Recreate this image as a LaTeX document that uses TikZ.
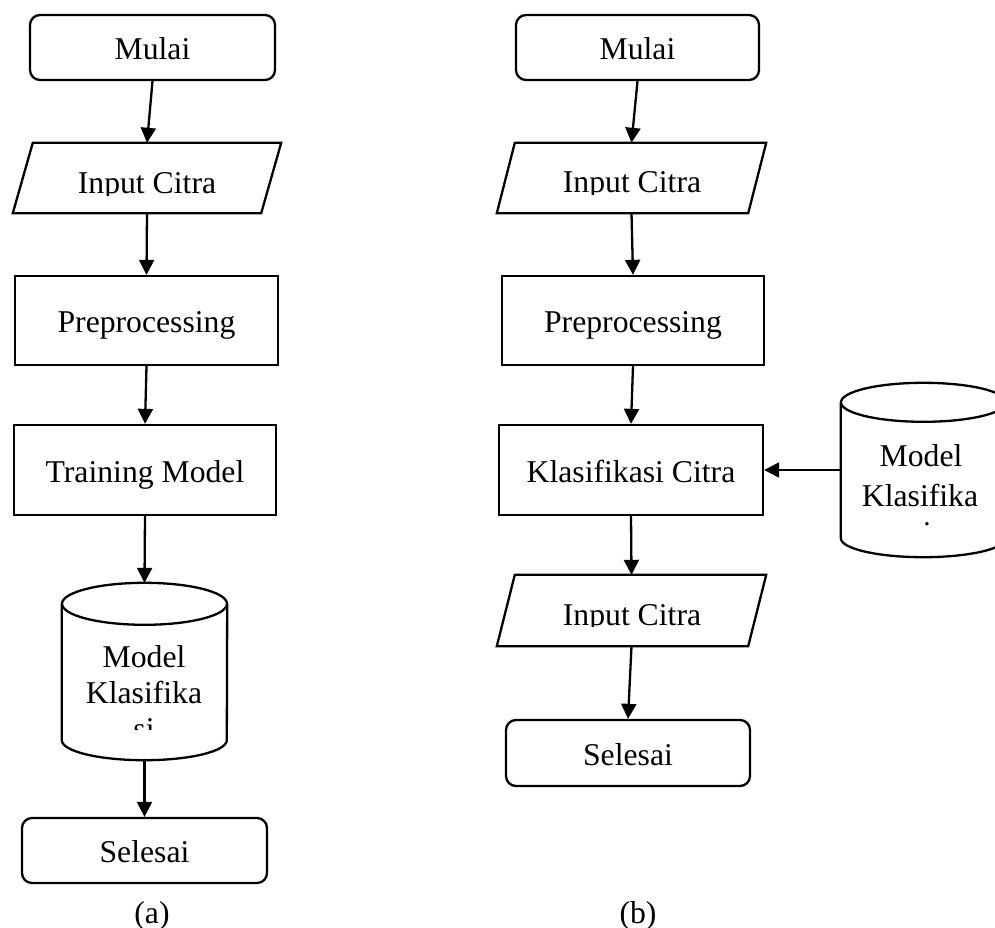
\documentclass[tikz,border=0pt]{standalone}
\usepackage{fontspec}
\setmainfont{Liberation Serif}
\usetikzlibrary{arrows.meta}

\tikzset{
  x=1pt, y=-1pt,
  txt/.style={font=\fontsize{31.7}{36}\selectfont},
  outline/.style={line width=2.3pt},
  shp/.style={txt, outline, inner sep=0pt, text height=30pt, text depth=6pt},
  procbox/.style={shp, draw, rectangle},
  termbox/.style={shp, draw, rectangle, rounded corners=10pt},
  body/.style={rectangle, inner sep=0pt},
  lbl/.style={txt, inner sep=0pt, anchor=base},
  flow/.style={outline, -{Triangle[length=15pt,width=15pt]}},
}

\begin{document}
\begin{tikzpicture}
\useasboundingbox (0,0) rectangle (995,928);

% ---------- (a) training ----------
\node[termbox, minimum width=245pt, minimum height=65pt] (mulaiA) at (152.5,47.5) {Mulai};

\node[body, minimum width=248pt, minimum height=70pt] (inA) at (147,178) {};
\draw[outline] ([xshift=10pt]inA.north west) -- ([xshift=10pt]inA.north east)
  -- ([xshift=-10pt]inA.south east) -- ([xshift=-10pt]inA.south west) -- cycle;
\begin{scope}
  \clip (20,145) rectangle (280,195);
  \node[lbl] (inAtxt) at (147,193.5) {Input Citra};
\end{scope}

\node[procbox, minimum width=263pt, minimum height=89pt] (preA) at (146.5,320.5) {Preprocessing};
\node[procbox, minimum width=262pt, minimum height=90pt] (trA) at (145,470) {Training Model};

\node[body, minimum width=165pt, minimum height=177pt] (cylA) at (144.5,671.5) {};
\draw[outline] ([yshift=-21pt]cylA.north) ellipse [x radius=82.5pt, y radius=21pt];
\draw[outline] ([yshift=-21pt]cylA.north west) -- ([yshift=20pt]cylA.south west)
  arc[start angle=180, end angle=360, x radius=82.5pt, y radius=20pt]
  -- ([yshift=-21pt]cylA.north east);
\begin{scope}
  \clip (64,626) rectangle (226,729);
  \node[lbl] (cylAl1) at (144,667) {Model};
  \node[lbl] (cylAl2) at (144,703) {Klasifika};
  \node[lbl] (cylAl3) at (144,739) {si};
\end{scope}

\node[termbox, minimum width=245pt, minimum height=65pt] (selA) at (144.5,850.5) {Selesai};
\node[lbl] (capA) at (152,923) {(a)};

\draw[flow] (mulaiA.south) -- (inA.north);
\draw[flow] (inA.south) -- (preA.north);
\draw[flow] (preA.south) -- (trA.north);
\draw[flow] (trA.south) -- (cylA.north);
\draw[flow] (cylA.south) -- (selA.north);

% ---------- (b) testing ----------
\node[termbox, minimum width=243pt, minimum height=65pt] (mulaiB) at (637.5,47.5) {Mulai};

\node[body, minimum width=251pt, minimum height=70pt] (inB) at (631.5,178) {};
\draw[outline] ([xshift=9pt]inB.north west) -- ([xshift=9pt]inB.north east)
  -- ([xshift=-9pt]inB.south east) -- ([xshift=-9pt]inB.south west) -- cycle;
\begin{scope}
  \clip (505,145) rectangle (760,194.5);
  \node[lbl] (inBtxt) at (632,193) {Input Citra};
\end{scope}

\node[procbox, minimum width=262pt, minimum height=89pt] (preB) at (633,320.5) {Preprocessing};
\node[procbox, minimum width=264pt, minimum height=90pt] (klsB) at (631,470) {Klasifikasi Citra};

\node[body, minimum width=251pt, minimum height=71pt] (outB) at (631.5,610.5) {};
\draw[outline] ([xshift=9pt]outB.north west) -- ([xshift=9pt]outB.north east)
  -- ([xshift=-9pt]outB.south east) -- ([xshift=-9pt]outB.south west) -- cycle;
\begin{scope}
  \clip (505,577) rectangle (760,626.5);
  \node[lbl] (outBtxt) at (632,625) {Input Citra};
\end{scope}

\node[termbox, minimum width=244pt, minimum height=66pt] (selB) at (628,753) {Selesai};
\node[lbl] (capB) at (638,923) {(b)};

\node[body, minimum width=165pt, minimum height=174pt] (cylB) at (923.5,470) {};
\draw[outline] ([yshift=-19.5pt]cylB.north) ellipse [x radius=82.5pt, y radius=19.5pt];
\draw[outline] ([yshift=-19.5pt]cylB.north west) -- ([yshift=19pt]cylB.south west)
  arc[start angle=180, end angle=360, x radius=82.5pt, y radius=19pt]
  -- ([yshift=-19.5pt]cylB.north east);
\begin{scope}
  \clip (843,423) rectangle (1004,526.5);
  \node[lbl] (cylBl1) at (921,466) {Model};
  \node[lbl] (cylBl2) at (920,506) {Klasifika};
  \node[lbl] (cylBl3) at (921,543) {si};
\end{scope}

\draw[flow] (mulaiB.south) -- (inB.north);
\draw[flow] (inB.south) -- (preB.north);
\draw[flow] (preB.south) -- (klsB.north);
\draw[flow] (klsB.south) -- (outB.north);
\draw[flow] (outB.south) -- (selB.north);
\draw[flow] (cylB.west) -- (klsB.east);
\end{tikzpicture}
\end{document}
